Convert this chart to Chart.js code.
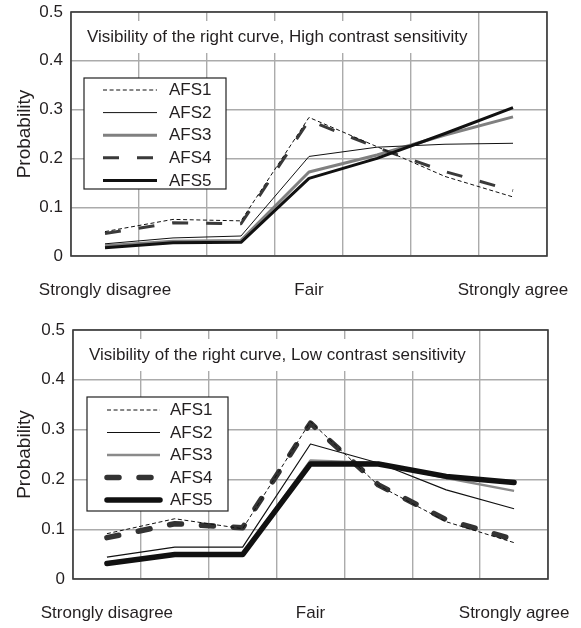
<!DOCTYPE html>
<html><head><meta charset="utf-8">
<script src="https://cdn.jsdelivr.net/npm/chart.js@4/dist/chart.umd.min.js"></script>
<style>
html,body{margin:0;padding:0;background:#fff;}
canvas{display:block;}
</style></head><body>
<canvas id="c1" width="581" height="310"></canvas>
<canvas id="c2" width="581" height="318"></canvas>
<script>
// ---- data ----
const categories = ['Strongly disagree', '', '', 'Fair', '', '', 'Strongly agree'];
const yTicks = [0, 0.1, 0.2, 0.3, 0.4, 0.5];
const seriesNames = ['AFS1', 'AFS2', 'AFS3', 'AFS4', 'AFS5'];
const yAxisTitle = 'Probability';
const titleHigh = 'Visibility of the right curve, High contrast sensitivity';
const titleLow = 'Visibility of the right curve, Low contrast sensitivity';

const highAFS1 = [0.050, 0.075, 0.072, 0.284, 0.224, 0.163, 0.121];
const highAFS2 = [0.025, 0.037, 0.041, 0.204, 0.223, 0.229, 0.231];
const highAFS3 = [0.021, 0.030, 0.032, 0.172, 0.207, 0.248, 0.285];
const highAFS4 = [0.046, 0.068, 0.066, 0.278, 0.222, 0.173, 0.134];
const highAFS5 = [0.017, 0.027, 0.028, 0.159, 0.200, 0.251, 0.304];

const lowAFS1 = [0.091, 0.121, 0.101, 0.316, 0.188, 0.115, 0.073];
const lowAFS2 = [0.044, 0.064, 0.064, 0.271, 0.233, 0.179, 0.141];
const lowAFS3 = [0.033, 0.050, 0.050, 0.238, 0.233, 0.203, 0.177];
const lowAFS4 = [0.083, 0.111, 0.103, 0.313, 0.189, 0.119, 0.079];
const lowAFS5 = [0.031, 0.049, 0.049, 0.231, 0.231, 0.206, 0.194];

// ---- styles ----
const FONT = '"Liberation Sans", Arial, sans-serif';
const TXT = '#231f20';
const highStyles = [
  {color: '#111', width: 1, dash: [4, 2.6], order: 1},
  {color: '#111', width: 1, dash: [], order: 2},
  {color: '#808080', width: 3, dash: [], order: 5},
  {color: '#3a3a3a', width: 3, dash: [16, 18], order: 4},
  {color: '#111', width: 3, dash: [], order: 3}
];
const lowStyles = [
  {color: '#111', width: 1, dash: [4, 2.6], order: 1},
  {color: '#111', width: 1.2, dash: [], order: 2},
  {color: '#8a8a8a', width: 2.5, dash: [], order: 5},
  {color: '#333', width: 5.5, dash: [12, 20], cap: 'round', order: 4},
  {color: '#111', width: 5.5, dash: [], cap: 'round', order: 3}
];

const panelDecor = {
  id: 'panelDecor',
  beforeDatasetsDraw(chart, args, o) {
    const {ctx, chartArea: a} = chart;
    ctx.save();
    ctx.font = '17px ' + FONT;
    const tw = ctx.measureText(o.title).width;
    ctx.fillStyle = '#fff';
    ctx.fillRect(a.left + o.titleX - 7, a.top + o.titleY - 16, tw + 14, 32);
    ctx.fillStyle = TXT;
    ctx.textBaseline = 'middle';
    ctx.textAlign = 'left';
    ctx.fillText(o.title, a.left + o.titleX, a.top + o.titleY);
    ctx.strokeStyle = '#3a3a3a';
    ctx.lineWidth = 1.6;
    ctx.strokeRect(a.left, a.top, a.right - a.left, a.bottom - a.top);
    ctx.restore();
  },
  afterDatasetsDraw(chart, args, o) {
    const {ctx, chartArea: a} = chart;
    const L = o.legend;
    const x0 = a.left + L.x, y0 = a.top + L.y;
    ctx.save();
    ctx.fillStyle = '#fff';
    ctx.fillRect(x0, y0, L.w, L.h);
    ctx.strokeStyle = '#222';
    ctx.lineWidth = 1.2;
    ctx.strokeRect(x0, y0, L.w, L.h);
    chart.data.datasets.forEach((ds, i) => {
      const y = y0 + L.first + i * L.step;
      ctx.beginPath();
      ctx.strokeStyle = ds.borderColor;
      ctx.lineWidth = ds.borderWidth;
      ctx.setLineDash(ds.borderDash || []);
      ctx.lineCap = ds.borderCapStyle || 'butt';
      ctx.moveTo(x0 + L.lineX1, y);
      ctx.lineTo(x0 + L.lineX2, y);
      ctx.stroke();
      ctx.setLineDash([]);
      ctx.fillStyle = TXT;
      ctx.font = '17px ' + FONT;
      ctx.textBaseline = 'middle';
      ctx.textAlign = 'left';
      ctx.fillText(ds.label, x0 + L.textX, y + 0.5);
    });
    ctx.restore();
  }
};

function zeroPad(s) {
  s.paddingLeft = 0; s.paddingRight = 0; s.paddingTop = 0; s.paddingBottom = 0;
}

function makeChart(id, seriesList, styles, title, geo) {
  const datasets = seriesList.map((vals, i) => ({
    label: seriesNames[i],
    data: vals,
    borderColor: styles[i].color,
    borderWidth: styles[i].width,
    borderDash: styles[i].dash,
    borderCapStyle: styles[i].cap || 'butt',
    borderJoinStyle: 'round',
    pointRadius: 0,
    tension: 0,
    fill: false,
    order: styles[i].order
  }));
  return new Chart(document.getElementById(id), {
    type: 'line',
    data: {labels: categories, datasets},
    plugins: [panelDecor],
    options: {
      responsive: false,
      animation: false,
      devicePixelRatio: 1,
      layout: {padding: {left: 0, right: geo.right, top: geo.top, bottom: 0}},
      plugins: {
        legend: {display: false},
        tooltip: {enabled: false},
        panelDecor: {title, titleX: 16, titleY: 25, legend: geo.legend}
      },
      scales: {
        x: {
          type: 'category',
          offset: true,
          grid: {offset: true, color: '#ababab', lineWidth: 1.4, drawTicks: false},
          border: {display: false},
          ticks: {autoSkip: false, maxRotation: 0, minRotation: 0, padding: 24,
                  color: TXT, font: {family: FONT, size: 17}},
          afterFit(s) { s.height = geo.xh; zeroPad(s); }
        },
        y: {
          min: 0, max: 0.5,
          afterBuildTicks(s) { s.ticks = yTicks.map(v => ({value: v})); },
          ticks: {padding: 8, color: TXT, font: {family: FONT, size: 17},
                  callback: v => (v === 0 ? '0' : v.toFixed(1))},
          grid: {color: '#ababab', lineWidth: 1.4, drawTicks: false},
          border: {display: false},
          title: {display: true, text: yAxisTitle, color: TXT,
                  font: {family: FONT, size: 19}, padding: {top: 13, bottom: 0}},
          afterFit(s) { s.width = geo.yw; zeroPad(s); }
        }
      }
    }
  });
}

makeChart('c1', [highAFS1, highAFS2, highAFS3, highAFS4, highAFS5], highStyles, titleHigh,
  {right: 34, top: 12, xh: 54, yw: 71,
   legend: {x: 13, y: 66, w: 142, h: 111, first: 12, step: 22.6, lineX1: 19, lineX2: 73, textX: 85}});
makeChart('c2', [lowAFS1, lowAFS2, lowAFS3, lowAFS4, lowAFS5], lowStyles, titleLow,
  {right: 33, top: 20, xh: 49, yw: 73,
   legend: {x: 14, y: 67, w: 141, h: 114, first: 13, step: 22.5, lineX1: 20, lineX2: 73, textX: 83}});
</script>
</body></html>
